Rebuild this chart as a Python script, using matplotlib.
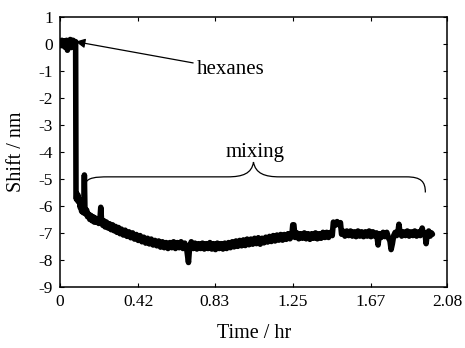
import matplotlib
matplotlib.use("Agg")
import matplotlib.pyplot as plt
from matplotlib.path import Path
from matplotlib.patches import PathPatch

plt.rcParams['font.family'] = ['Liberation Serif', 'DejaVu Serif']
plt.rcParams['axes.unicode_minus'] = False

# ---- data ----
time_hr = [
    0.000, 0.005, 0.010, 0.015, 0.020, 0.025, 0.030, 0.035, 0.040, 0.045,
    0.050, 0.055, 0.060, 0.065, 0.070, 0.075, 0.080, 0.084,
    0.086, 0.088, 0.091, 0.094, 0.097, 0.100, 0.104, 0.108, 0.112, 0.116,
    0.120, 0.124, 0.128, 0.131, 0.134, 0.138, 0.143, 0.148, 0.154, 0.160,
    0.166, 0.172, 0.178, 0.184, 0.190, 0.196, 0.202, 0.208, 0.214, 0.219,
    0.224, 0.230, 0.236, 0.242, 0.250, 0.258, 0.266, 0.274, 0.282, 0.290,
    0.298, 0.306, 0.314, 0.322, 0.330, 0.340, 0.350, 0.360, 0.370, 0.380,
    0.390, 0.400, 0.410, 0.420, 0.430, 0.440, 0.450, 0.460, 0.470, 0.480,
    0.490, 0.500, 0.510, 0.520, 0.530, 0.540, 0.550, 0.560, 0.570, 0.580,
    0.590, 0.600, 0.610, 0.620, 0.630, 0.640, 0.650, 0.660, 0.670, 0.680,
    0.690, 0.696, 0.705, 0.715, 0.725, 0.735, 0.745, 0.755, 0.765, 0.775,
    0.785, 0.795, 0.805, 0.815, 0.825, 0.835, 0.845, 0.855, 0.865, 0.875,
    0.885, 0.895, 0.905, 0.915, 0.925, 0.935, 0.945, 0.955, 0.965, 0.975,
    0.985, 0.995, 1.005, 1.015, 1.025, 1.035, 1.045, 1.055, 1.065, 1.075,
    1.085, 1.095, 1.105, 1.115, 1.125, 1.135, 1.145, 1.155, 1.165, 1.175,
    1.185, 1.195, 1.205, 1.215, 1.225, 1.235, 1.245, 1.250, 1.256, 1.262,
    1.272, 1.282, 1.292, 1.302, 1.312, 1.322, 1.332, 1.342, 1.352, 1.362,
    1.372, 1.382, 1.392, 1.402, 1.412, 1.422, 1.432, 1.442, 1.452, 1.462,
    1.468, 1.478, 1.488, 1.498, 1.506, 1.512, 1.520, 1.530, 1.540, 1.550,
    1.560, 1.570, 1.580, 1.590, 1.600, 1.610, 1.620, 1.630, 1.640, 1.650,
    1.660, 1.670, 1.680, 1.690, 1.700, 1.708, 1.715, 1.725, 1.735, 1.745,
    1.755, 1.765, 1.772, 1.778, 1.785, 1.792, 1.800, 1.808, 1.815, 1.820,
    1.826, 1.835, 1.845, 1.855, 1.865, 1.875, 1.885, 1.895, 1.905, 1.915,
    1.925, 1.935, 1.945, 1.952, 1.960, 1.966, 1.972, 1.980, 1.988, 1.995,
    2.000,
]
shift_nm = [
    0.10, -0.05, 0.15, 0.00, 0.12, -0.10, 0.05, 0.15, -0.22, 0.10,
    0.00, 0.18, -0.12, 0.08, 0.15, -0.05, 0.10, 0.10,
    -5.60, -5.75, -5.55, -5.80, -5.60, -5.85, -5.75, -6.05, -5.95, -6.20,
    -6.05, -6.25, -6.10, -4.85, -6.15, -6.30, -6.15, -6.40, -6.30, -6.50,
    -6.35, -6.55, -6.40, -6.60, -6.45, -6.60, -6.50, -6.65, -6.55, -6.05,
    -6.60, -6.72, -6.55, -6.78, -6.60, -6.82, -6.66, -6.88, -6.70, -6.92,
    -6.76, -6.98, -6.80, -7.03, -6.86, -7.08, -6.90, -7.13, -6.96, -7.18,
    -7.00, -7.23, -7.06, -7.28, -7.10, -7.33, -7.16, -7.38, -7.20, -7.41,
    -7.23, -7.45, -7.28, -7.48, -7.30, -7.53, -7.33, -7.55, -7.36, -7.58,
    -7.36, -7.55, -7.33, -7.58, -7.36, -7.55, -7.33, -7.58, -7.38, -7.58,
    -8.10, -7.52, -7.33, -7.58, -7.38, -7.60, -7.40, -7.58, -7.38, -7.60,
    -7.40, -7.58, -7.36, -7.60, -7.40, -7.62, -7.38, -7.58, -7.40, -7.60,
    -7.38, -7.58, -7.36, -7.55, -7.33, -7.52, -7.30, -7.50, -7.28, -7.48,
    -7.26, -7.47, -7.23, -7.44, -7.23, -7.42, -7.20, -7.40, -7.18, -7.42,
    -7.20, -7.37, -7.16, -7.34, -7.13, -7.32, -7.10, -7.30, -7.08, -7.27,
    -7.06, -7.27, -7.06, -7.24, -7.03, -7.22, -7.10, -6.70, -6.70, -7.17,
    -7.00, -7.22, -7.03, -7.20, -7.00, -7.22, -7.03, -7.24, -7.03, -7.20,
    -7.00, -7.22, -7.03, -7.20, -6.98, -7.17, -6.98, -7.17, -6.98, -7.10,
    -6.60, -6.72, -6.58, -6.70, -6.62, -7.05, -6.93, -7.12, -6.93, -7.10,
    -6.93, -7.12, -6.96, -7.14, -6.93, -7.12, -6.96, -7.14, -6.96, -7.12,
    -6.93, -7.14, -6.96, -7.12, -7.00, -7.45, -7.03, -7.17, -6.98, -7.14,
    -6.98, -7.20, -7.30, -7.62, -7.40, -7.10, -6.98, -7.10, -6.96, -6.68,
    -6.98, -7.12, -6.96, -7.10, -6.93, -7.12, -6.96, -7.10, -6.93, -7.12,
    -6.96, -7.10, -6.82, -7.05, -7.00, -7.40, -7.05, -6.93, -7.12, -7.00,
    -7.05,
]
x_ticks = [0, 0.42, 0.83, 1.25, 1.67, 2.08]
x_tick_labels = ["0", "0.42", "0.83", "1.25", "1.67", "2.08"]
y_ticks = [1, 0, -1, -2, -3, -4, -5, -6, -7, -8, -9]

fig = plt.figure(figsize=(4.65, 3.48), dpi=100)
ax = fig.add_axes([0.129, 0.176, 0.833, 0.774])

ax.plot(time_hr, shift_nm, color='black', lw=4.0,
        solid_joinstyle='round', solid_capstyle='round')

ax.set_xlim(0, 2.08)
ax.set_ylim(-9, 1)
ax.set_xticks(x_ticks)
ax.set_xticklabels(x_tick_labels)
ax.set_yticks(y_ticks)
ax.tick_params(direction='in', length=3, width=0.8, top=True, right=True,
               labelsize=12.5, pad=5, colors='black')
for s in ax.spines.values():
    s.set_linewidth(1.1)

ax.set_xlabel('Time / hr', fontsize=14.5, labelpad=10)
ax.set_ylabel('Shift / nm', fontsize=14.5, labelpad=9)

# hexanes annotation
ax.annotate('', xy=(0.084, 0.10), xytext=(0.715, -0.69),
            arrowprops=dict(arrowstyle='-|>', color='black', lw=0.9,
                            mutation_scale=14, shrinkA=0, shrinkB=0))
ax.text(0.735, -1.10, 'hexanes', fontsize=15, ha='left', va='baseline')

# mixing brace
verts = [
    (0.137, -5.15),
    (0.150, -4.95), (0.190, -4.92), (0.260, -4.92),
    (0.900, -4.92),
    (0.980, -4.92), (1.030, -4.80), (1.039, -4.37),
    (1.050, -4.80), (1.100, -4.92), (1.180, -4.92),
    (1.860, -4.92),
    (1.940, -4.92), (1.962, -5.10), (1.962, -5.50),
]
codes = [Path.MOVETO,
         Path.CURVE4, Path.CURVE4, Path.CURVE4,
         Path.LINETO,
         Path.CURVE4, Path.CURVE4, Path.CURVE4,
         Path.CURVE4, Path.CURVE4, Path.CURVE4,
         Path.LINETO,
         Path.CURVE4, Path.CURVE4, Path.CURVE4]
ax.add_patch(PathPatch(Path(verts, codes), facecolor='none',
                       edgecolor='black', lw=0.9))
ax.text(1.048, -4.17, 'mixing', fontsize=15, ha='center', va='baseline')

fig.savefig('out.png', dpi=100)
